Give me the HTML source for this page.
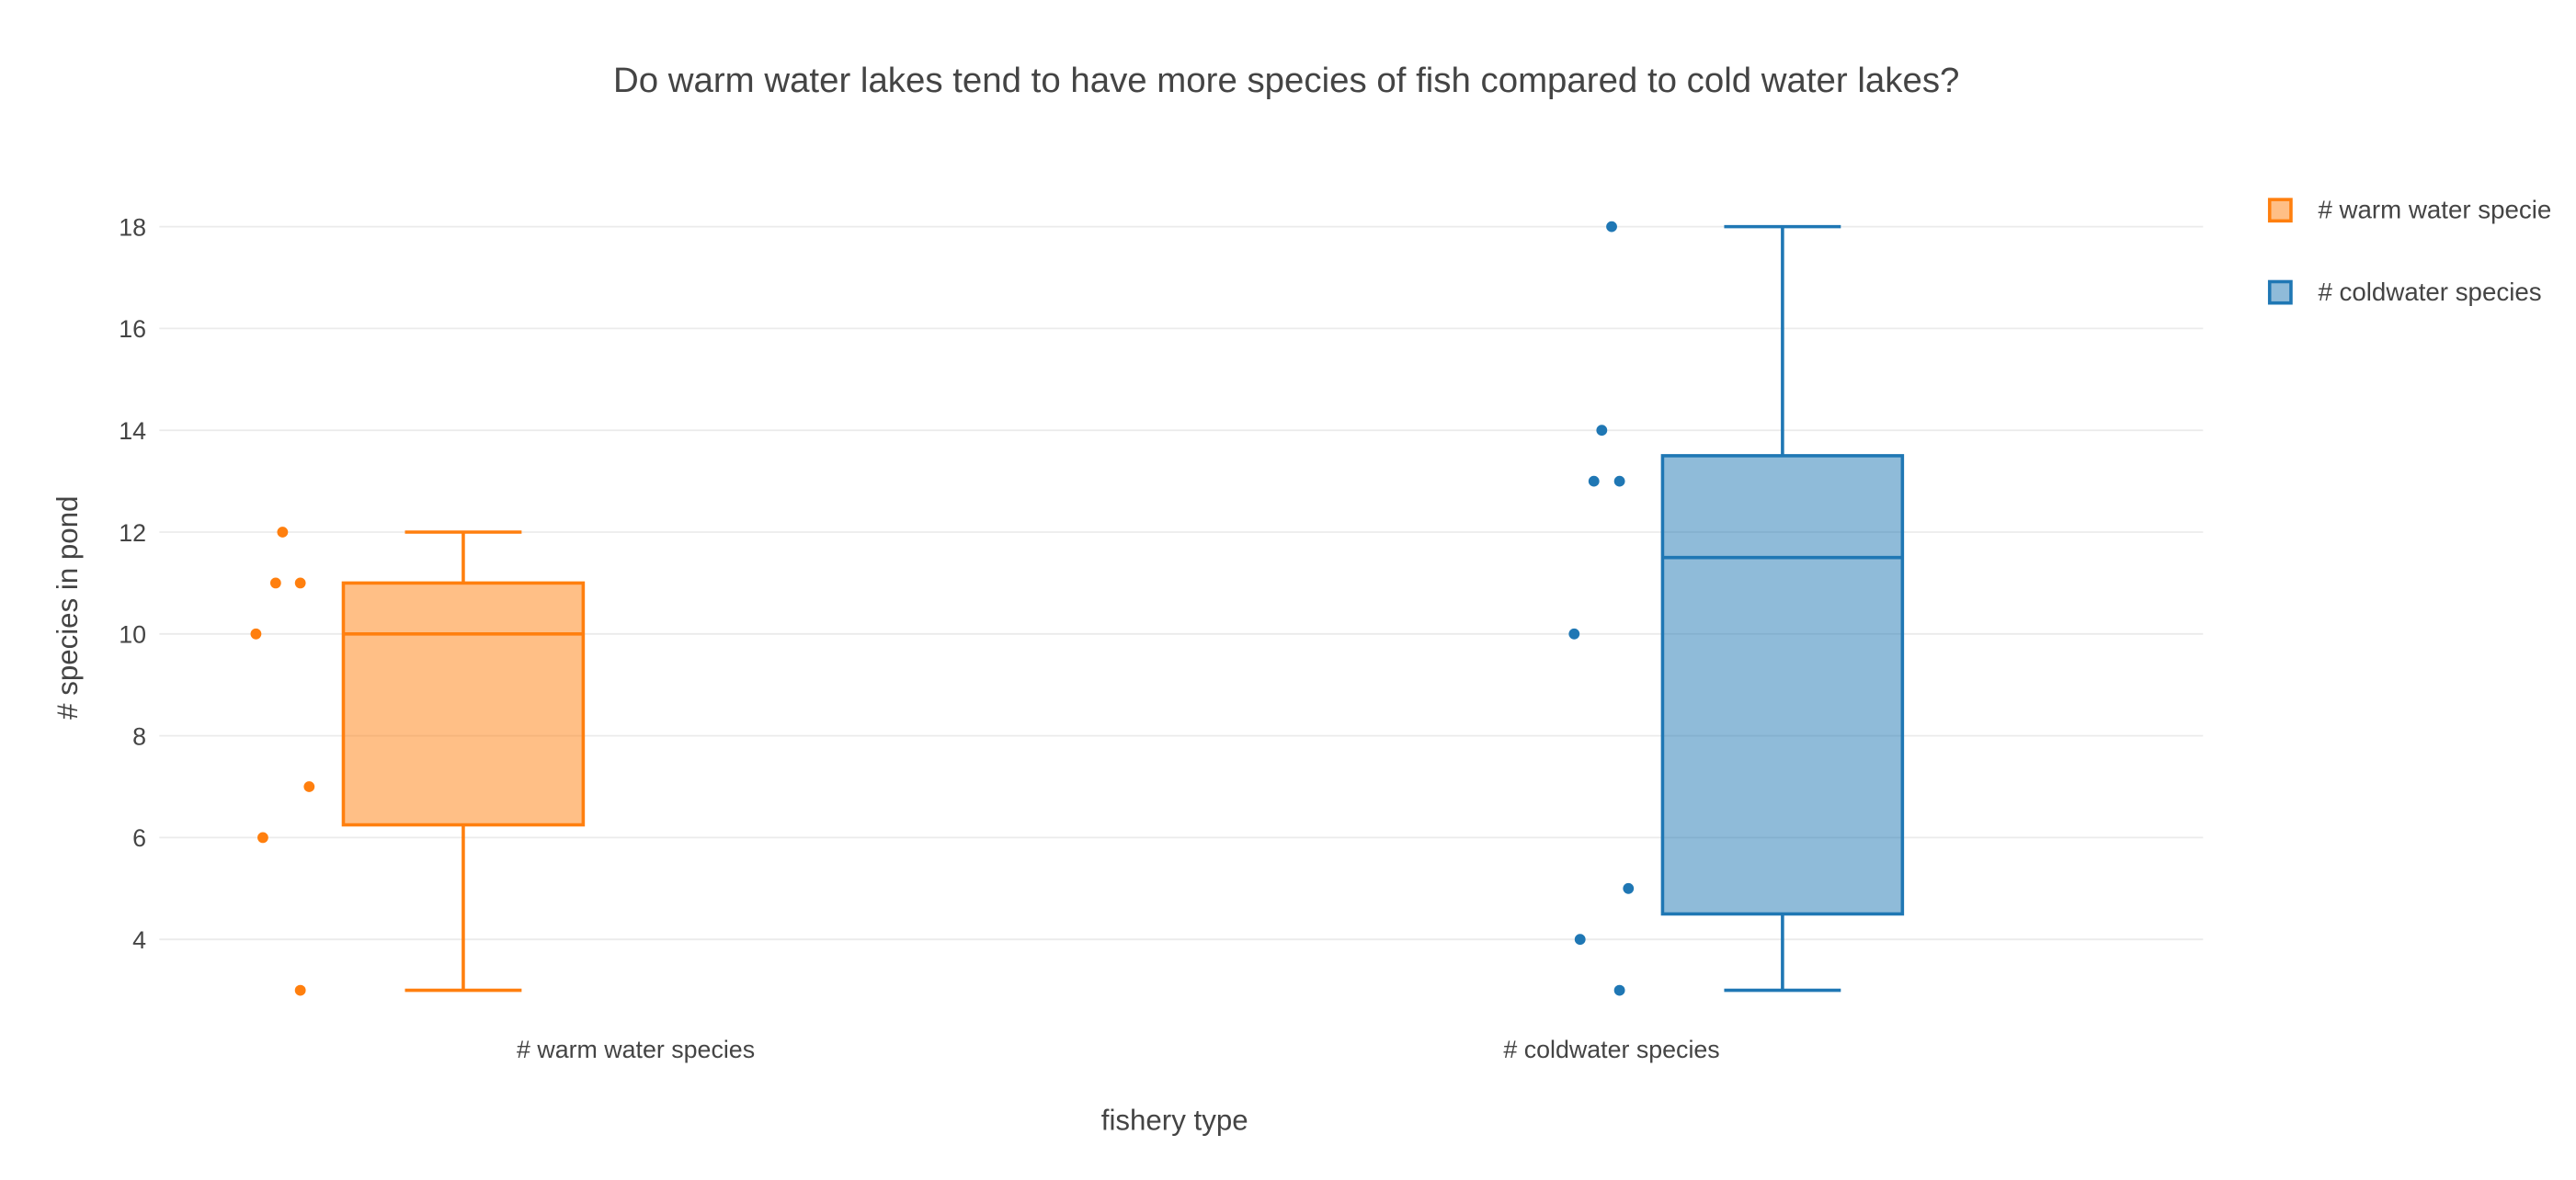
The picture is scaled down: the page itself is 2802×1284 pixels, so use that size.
<!DOCTYPE html>
<html><head><meta charset="utf-8"><style>
html,body{margin:0;padding:0;background:#fff;}
svg{display:block;font-family:"Liberation Sans","DejaVu Sans",sans-serif;}
</style></head><body>
<svg id="chart" width="2802" height="1284" viewBox="0 0 1568 718.5" preserveAspectRatio="none" xmlns="http://www.w3.org/2000/svg">
<text x="783" y="56" text-anchor="middle" font-size="21.5" fill="#444">Do warm water lakes tend to have more species of fish compared to cold water lakes?</text>
<g id="grid"></g><g id="yticks"></g><g id="marks"></g>
<text x="715" y="688" text-anchor="middle" font-size="17.5" fill="#444">fishery type</text>
<text transform="translate(47,370) rotate(-90)" text-anchor="middle" font-size="17.5" fill="#444"># species in pond</text>
<g>
<g><rect x="1381.5" y="121.5" width="13" height="13" fill="rgba(255,127,14,0.5)" stroke="#ff7f0e" stroke-width="2"/><text x="1411" y="133" font-size="15.5" fill="#444"># warm water specie</text></g>
<g><rect x="1381.5" y="171.5" width="13" height="13" fill="rgba(31,119,180,0.5)" stroke="#1f77b4" stroke-width="2"/><text x="1411" y="183" font-size="15.5" fill="#444"># coldwater species</text></g>
</g>
</svg>
<script>
const categories = ["# warm water species", "# coldwater species"];
const yTicks = [4, 6, 8, 10, 12, 14, 16, 18];
const lowerWhisker = [3, 3];
const q1 = [6.25, 4.5];
const median = [10, 11.5];
const q3 = [11, 13.5];
const upperWhisker = [12, 18];
const warmPoints = [12, 11, 11, 10, 7, 6, 3];
const coldPoints = [18, 14, 13, 13, 10, 5, 4, 3];
const warmJitter = [0, -0.07, 0.18, -0.27, 0.27, -0.2, 0.18];
const coldJitter = [0.1, 0, -0.08, 0.18, -0.28, 0.27, -0.22, 0.18];

const NS = "http://www.w3.org/2000/svg";
const plotL = 97, plotR = 1341;
function yScale(v){ return 572 - (v - 4) * 31; }
function xCenter(i){ return 387 + i * 594; }
const boxOffset = [-105, 104];
const pointOffset = [-215, -6];
const colors = ["#ff7f0e", "#1f77b4"];
const fills = ["rgba(255,127,14,0.5)", "rgba(31,119,180,0.5)"];
function mk(tag, attrs, parent){ const e = document.createElementNS(NS, tag); for (const k in attrs) e.setAttribute(k, attrs[k]); parent.appendChild(e); return e; }
const grid = document.getElementById("grid"), yt = document.getElementById("yticks"), marks = document.getElementById("marks");
yTicks.forEach(t => {
  const l = mk("line", {x1: plotL, x2: plotR, y1: yScale(t), y2: yScale(t), stroke: "#ebebeb", "stroke-width": 1}, grid);
  
  
  const tx = mk("text", {x: 89, y: yScale(t) + 5.5, "text-anchor": "end", "font-size": "15", fill: "#444"}, yt);
  tx.textContent = t;
  
  
});
categories.forEach((c, i) => {
  const tx = mk("text", {x: xCenter(i), y: 644, "text-anchor": "middle", "font-size": "15", fill: "#444"}, yt);
  tx.textContent = c;
  
  
});
const pts = [warmPoints, coldPoints], jit = [warmJitter, coldJitter];
categories.forEach((c, i) => {
  const cx = xCenter(i) + boxOffset[i], bw = 146, cw = 71;
  const g = mk("g", {}, marks);
  
  
  const col = colors[i];
  mk("line", {x1: cx, x2: cx, y1: yScale(upperWhisker[i]), y2: yScale(q3[i]), stroke: col, "stroke-width": 2}, g);
  mk("line", {x1: cx, x2: cx, y1: yScale(q1[i]), y2: yScale(lowerWhisker[i]), stroke: col, "stroke-width": 2}, g);
  mk("line", {x1: cx - cw/2, x2: cx + cw/2, y1: yScale(upperWhisker[i]), y2: yScale(upperWhisker[i]), stroke: col, "stroke-width": 2}, g);
  mk("line", {x1: cx - cw/2, x2: cx + cw/2, y1: yScale(lowerWhisker[i]), y2: yScale(lowerWhisker[i]), stroke: col, "stroke-width": 2}, g);
  mk("rect", {x: cx - bw/2, y: yScale(q3[i]), width: bw, height: yScale(q1[i]) - yScale(q3[i]), fill: fills[i], stroke: col, "stroke-width": 2}, g);
  mk("line", {x1: cx - bw/2, x2: cx + bw/2, y1: yScale(median[i]), y2: yScale(median[i]), stroke: col, "stroke-width": 2}, g);
  const pc = xCenter(i) + pointOffset[i];
  pts[i].forEach((v, k) => {
    const p = mk("circle", {cx: pc + jit[i][k] * 60, cy: yScale(v), r: 3.3, fill: col}, marks);
    
    
  });
});
</script>
</body></html>
